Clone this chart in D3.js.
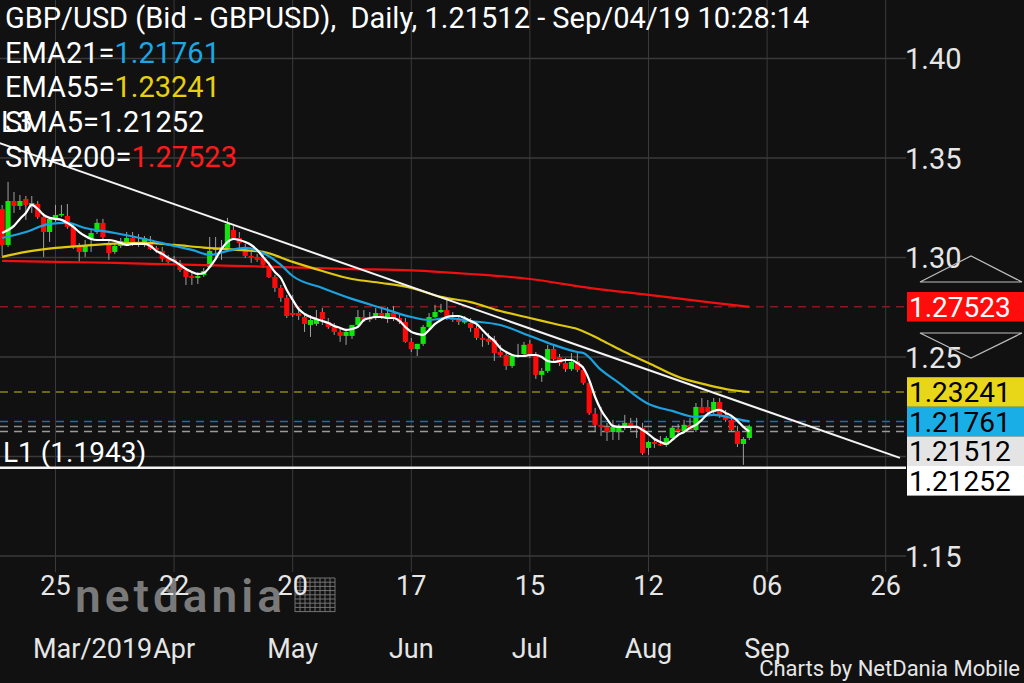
<!DOCTYPE html>
<html><head><meta charset="utf-8">
<script src="https://cdn.jsdelivr.net/npm/d3@7"></script>
<style>
body{margin:0;background:#111;overflow:hidden}
svg{display:block}
text{font-family:Roboto,"Noto Sans",sans-serif}
</style></head>
<body><svg id="c" width="1024" height="683"></svg>
<script>
// ---- data (index 0 = Mar 25 2019, trading days) ----
const firstIndex = -9;
const opens = [1.3244,1.3063,1.3284,1.3259,1.3294,1.3259,1.3269,1.3204,1.3128,1.3194,1.3214,1.3209,1.3154,1.3053,1.3028,1.3093,1.3128,1.3174,1.3068,1.3028,1.3058,1.3068,1.3098,1.3073,1.3078,1.3073,1.3048,1.3033,1.2998,1.2993,1.2973,1.2937,1.2907,1.2897,1.2912,1.2952,1.3038,1.3053,1.3048,1.3138,1.3098,1.3053,1.3008,1.3003,1.2998,1.2958,1.2902,1.2847,1.2797,1.2721,1.2721,1.2701,1.2661,1.2666,1.2726,1.2676,1.2651,1.2626,1.2606,1.2606,1.2661,1.2701,1.2696,1.2696,1.2721,1.2696,1.2721,1.2696,1.2676,1.2576,1.2540,1.2566,1.2651,1.2701,1.2726,1.2736,1.2696,1.2686,1.2676,1.2671,1.2646,1.2596,1.2591,1.2586,1.2525,1.2510,1.2455,1.2505,1.2515,1.2566,1.2510,1.2410,1.2430,1.2540,1.2500,1.2470,1.2440,1.2480,1.2435,1.2370,1.2214,1.2159,1.2149,1.2123,1.2123,1.2149,1.2169,1.2149,1.2144,1.2043,1.2073,1.2063,1.2058,1.2093,1.2139,1.2128,1.2159,1.2133,1.2249,1.2249,1.2224,1.2274,1.2209,1.2184,1.2128,1.2063,1.2093];
const highs = [1.3264,1.3380,1.3329,1.3314,1.3309,1.3309,1.3284,1.3224,1.3204,1.3264,1.3264,1.3269,1.3169,1.3073,1.3088,1.3144,1.3194,1.3194,1.3088,1.3073,1.3098,1.3128,1.3128,1.3118,1.3108,1.3108,1.3058,1.3053,1.3013,1.3008,1.2988,1.2947,1.2922,1.2927,1.2947,1.3103,1.3103,1.3088,1.3199,1.3158,1.3128,1.3068,1.3028,1.3018,1.3018,1.2978,1.2912,1.2862,1.2812,1.2812,1.2751,1.2721,1.2711,1.2736,1.2746,1.2696,1.2671,1.2646,1.2636,1.2636,1.2736,1.2736,1.2726,1.2746,1.2746,1.2751,1.2756,1.2716,1.2696,1.2596,1.2566,1.2661,1.2721,1.2762,1.2767,1.2787,1.2726,1.2711,1.2706,1.2696,1.2661,1.2616,1.2621,1.2606,1.2561,1.2530,1.2510,1.2566,1.2576,1.2586,1.2525,1.2445,1.2561,1.2556,1.2515,1.2495,1.2520,1.2520,1.2455,1.2385,1.2244,1.2249,1.2169,1.2184,1.2164,1.2209,1.2194,1.2194,1.2169,1.2078,1.2093,1.2103,1.2103,1.2154,1.2164,1.2184,1.2194,1.2269,1.2294,1.2284,1.2294,1.2294,1.2234,1.2209,1.2154,1.2098,1.2160];
const lows = [1.3008,1.3053,1.3224,1.3239,1.3189,1.3224,1.3194,1.3003,1.3078,1.3179,1.3204,1.3144,1.3043,1.2978,1.3003,1.3028,1.3118,1.3088,1.2988,1.3018,1.3048,1.3058,1.3058,1.3053,1.3053,1.3038,1.3023,1.2978,1.2968,1.2968,1.2927,1.2862,1.2862,1.2867,1.2902,1.2947,1.2998,1.2988,1.3038,1.3088,1.3038,1.2998,1.2973,1.2978,1.2947,1.2897,1.2827,1.2777,1.2696,1.2701,1.2686,1.2626,1.2601,1.2656,1.2661,1.2641,1.2611,1.2576,1.2561,1.2591,1.2651,1.2676,1.2676,1.2686,1.2691,1.2671,1.2681,1.2666,1.2571,1.2525,1.2505,1.2556,1.2641,1.2696,1.2721,1.2686,1.2676,1.2661,1.2666,1.2626,1.2586,1.2551,1.2561,1.2480,1.2500,1.2435,1.2445,1.2495,1.2505,1.2495,1.2390,1.2375,1.2420,1.2475,1.2455,1.2425,1.2430,1.2425,1.2360,1.2209,1.2123,1.2103,1.2078,1.2083,1.2083,1.2133,1.2133,1.2093,1.2008,1.2008,1.2043,1.2053,1.2048,1.2083,1.2113,1.2118,1.2133,1.2123,1.2219,1.2204,1.2214,1.2194,1.2174,1.2123,1.2048,1.1958,1.2083];
const closes = [1.3063,1.3284,1.3259,1.3284,1.3264,1.3274,1.3204,1.3128,1.3194,1.3214,1.3219,1.3154,1.3053,1.3028,1.3063,1.3123,1.3174,1.3103,1.3023,1.3058,1.3083,1.3098,1.3073,1.3068,1.3098,1.3043,1.3038,1.2993,1.2978,1.2978,1.2937,1.2902,1.2897,1.2907,1.2932,1.3033,1.3048,1.3038,1.3169,1.3098,1.3073,1.3008,1.2998,1.2988,1.2963,1.2902,1.2847,1.2797,1.2706,1.2711,1.2706,1.2666,1.2686,1.2691,1.2691,1.2651,1.2626,1.2606,1.2626,1.2661,1.2701,1.2686,1.2686,1.2721,1.2696,1.2721,1.2696,1.2676,1.2576,1.2540,1.2566,1.2651,1.2701,1.2726,1.2736,1.2696,1.2686,1.2676,1.2681,1.2646,1.2596,1.2586,1.2576,1.2520,1.2510,1.2455,1.2505,1.2510,1.2561,1.2505,1.2410,1.2430,1.2540,1.2490,1.2470,1.2440,1.2475,1.2435,1.2370,1.2219,1.2159,1.2149,1.2123,1.2149,1.2149,1.2169,1.2149,1.2144,1.2018,1.2073,1.2063,1.2058,1.2093,1.2144,1.2128,1.2159,1.2133,1.2249,1.2219,1.2224,1.2274,1.2209,1.2184,1.2133,1.2063,1.2088,1.21512];

const sma5 = [1.3123,1.3138,1.3159,1.3194,1.3224,1.3264,1.3244,1.3214,1.3199,1.3194,1.3189,1.3174,1.3154,1.3128,1.3108,1.3093,1.3088,1.3088,1.3088,1.3083,1.3073,1.3063,1.3068,1.3068,1.3068,1.3058,1.3033,1.3018,1.2998,1.2983,1.2963,1.2942,1.2927,1.2917,1.2922,1.2952,1.2993,1.3043,1.3078,1.3093,1.3088,1.3078,1.3063,1.3038,1.3003,1.2968,1.2927,1.2897,1.2837,1.2787,1.2741,1.2716,1.2701,1.2691,1.2681,1.2671,1.2656,1.2646,1.2636,1.2641,1.2651,1.2686,1.2696,1.2701,1.2701,1.2696,1.2696,1.2681,1.2651,1.2626,1.2616,1.2611,1.2636,1.2666,1.2686,1.2701,1.2706,1.2706,1.2696,1.2681,1.2666,1.2636,1.2606,1.2581,1.2545,1.2525,1.2510,1.2505,1.2505,1.2510,1.2510,1.2500,1.2480,1.2475,1.2480,1.2485,1.2485,1.2470,1.2445,1.2385,1.2299,1.2234,1.2189,1.2154,1.2149,1.2149,1.2149,1.2149,1.2133,1.2113,1.2088,1.2073,1.2063,1.2083,1.2108,1.2123,1.2144,1.2159,1.2184,1.2214,1.2229,1.2234,1.2219,1.2204,1.2179,1.2149,1.21252];

const ema21Idx = [-9,-5,-1,2,5,10,15,20,23,26,29,32,35,38,40,45,50,55,60,63,66,70,75,80,84,88,89,92,95,100,104,108,111,114,117];
const ema21Val = [1.3098,1.3128,1.3169,1.3174,1.3148,1.3123,1.3093,1.3058,1.3038,1.3013,1.3033,1.3048,1.3023,1.2963,1.2907,1.2847,1.2792,1.2746,1.2701,1.2686,1.2696,1.2681,1.2661,1.2606,1.2561,1.2525,1.2520,1.2435,1.2370,1.2264,1.2229,1.2199,1.2209,1.2194,1.21761];
const ema55Idx = [-9,-5,0,5,10,15,20,25,30,35,40,45,50,55,60,65,70,75,80,85,88,92,96,100,105,110,114,117];
const ema55Val = [1.3003,1.3028,1.3048,1.3060,1.3070,1.3073,1.3063,1.3050,1.3040,1.3028,1.2978,1.2932,1.2892,1.2872,1.2847,1.2802,1.2776,1.2731,1.2696,1.2661,1.2641,1.2586,1.2525,1.2470,1.2400,1.2359,1.2334,1.23241];
const sma200Idx = [-9,0,10,20,30,40,50,60,70,80,90,100,110,117];
const sma200Val = [1.2983,1.2978,1.2973,1.2965,1.2958,1.2950,1.2942,1.2935,1.2917,1.2892,1.2847,1.2812,1.2776,1.27523];

const trendIdx = [-9.4, 142.4];
const trendVal = [1.3575, 1.1993];
const l1Value = 1.1943;

const tickIdx = [0,20,40,60,80,100,120,140];
const tickDays = ["25","22","20","17","15","12","06","26"];
const tickMonths = ["Mar/2019","Apr","May","Jun","Jul","Aug","Sep",""];
const yTicks = [1.15,1.25,1.30,1.35,1.40];
const gridY = [1.15,1.20,1.25,1.30,1.35,1.40];

const tagValues = [1.27523,1.23241,1.21761,1.21512,1.21252];
const tagFill = ["#ff0d0d","#e8d619","#19aee6","#e4e4e4","#ffffff"];
const tagText = ["#ffffff","#000","#000","#000","#000"];
const levelColor = ["#8a1a1a","#8c8214","#1c6f96","#8a8a8a","#9a9a9a"];

// ---- scales ----
const svg = d3.select("#c");
const W = 1024, H = 683, plotR = 906;
const x = d3.scaleLinear().domain([0,140]).range([55.5,885.7]);
const y = d3.scaleLinear().domain([1.15,1.40]).range([556,58.5]);

svg.append("rect").attr("width",W).attr("height",H).attr("fill","#111");
svg.append("clipPath").attr("id","pc").append("rect").attr("x",0).attr("y",0).attr("width",plotR).attr("height",575);
const g = svg.append("g").attr("clip-path","url(#pc)");

// grid
g.selectAll(".vg").data(tickIdx).join("line")
  .attr("x1",d=>x(d)).attr("x2",d=>x(d)).attr("y1",0).attr("y2",572)
  .attr("stroke","#3a3a3a").attr("stroke-width",1);
g.selectAll(".hg").data(gridY).join("line")
  .attr("x1",0).attr("x2",plotR).attr("y1",d=>y(d)).attr("y2",d=>y(d))
  .attr("stroke","#3a3a3a").attr("stroke-width",1.5);

// level dashed lines
g.selectAll(".lv").data(tagValues).join("line")
  .attr("x1",0).attr("x2",plotR).attr("y1",d=>y(d)).attr("y2",d=>y(d))
  .attr("stroke",(d,i)=>levelColor[i]).attr("stroke-width",1.5).attr("stroke-dasharray","8,6");

// watermark (behind labels)
svg.append("text").attr("x",75).attr("y",612).attr("font-size",46).attr("font-weight",600)
  .attr("font-family","'Open Sans',sans-serif").attr("fill","#8c8c8c").attr("opacity",0.85).attr("letter-spacing",4).text("netdania");
const hatch = svg.append("g").attr("stroke","#8c8c8c").attr("stroke-width",1).attr("opacity",0.8);
d3.range(0,9).forEach(k=>{
  hatch.append("line").attr("x1",295+k*5).attr("x2",295+k*5).attr("y1",578).attr("y2",612);
  hatch.append("line").attr("x1",295).attr("x2",335).attr("y1",578+k*4.2).attr("y2",578+k*4.2);
});

// candles
const candles = opens.map((o,k)=>({i:firstIndex+k,o,h:highs[k],l:lows[k],c:closes[k]}));
const bw = 5.2;
g.selectAll(".wk").data(candles).join("line")
  .attr("x1",d=>x(d.i)).attr("x2",d=>x(d.i)).attr("y1",d=>y(d.h)).attr("y2",d=>y(d.l))
  .attr("stroke","#a0a0a0").attr("stroke-width",1);
g.selectAll(".bd").data(candles).join("rect")
  .attr("x",d=>x(d.i)-bw/2).attr("width",bw)
  .attr("y",d=>y(Math.max(d.o,d.c)))
  .attr("height",d=>Math.max(1.5,Math.abs(y(d.o)-y(d.c))))
  .attr("fill",d=>d.c>=d.o?"#0ee60e":"#ff0a0a");

// moving averages
const line = d3.line().x(d=>x(d[0])).y(d=>y(d[1])).curve(d3.curveMonotoneX);
const zip = (a,b)=>a.map((v,k)=>[v,b[k]]);
g.append("path").attr("d",line(zip(sma200Idx,sma200Val))).attr("fill","none").attr("stroke","#f01010").attr("stroke-width",2.2);
g.append("path").attr("d",line(zip(ema55Idx,ema55Val))).attr("fill","none").attr("stroke","#e0c810").attr("stroke-width",2.2);
g.append("path").attr("d",line(zip(ema21Idx,ema21Val))).attr("fill","none").attr("stroke","#1aa3e0").attr("stroke-width",2.2);
g.append("path").attr("d",line(sma5.map((v,k)=>[firstIndex+k,v]))).attr("fill","none").attr("stroke","#ffffff").attr("stroke-width",2.2);

// trendline L3 and L1
g.append("line").attr("x1",x(trendIdx[0])).attr("y1",y(trendVal[0])).attr("x2",x(trendIdx[1])).attr("y2",y(trendVal[1]))
  .attr("stroke","#f4f4f4").attr("stroke-width",2);
svg.append("line").attr("x1",0).attr("x2",plotR).attr("y1",y(l1Value)).attr("y2",y(l1Value))
  .attr("stroke","#f4f4f4").attr("stroke-width",2.5);

// header texts
const hdr = svg.append("g").attr("font-size",29).attr("fill","#fff");
hdr.append("text").attr("x",5).attr("y",28).text("GBP/USD (Bid - GBPUSD),  Daily, 1.21512 - Sep/04/19 10:28:14").attr("xml:space","preserve").style("white-space","pre");
const legends = [["EMA21=","1.21761","#1aa8e4",63],["EMA55=","1.23241","#e8d010",97],["SMA5=","1.21252","#ffffff",132],["SMA200=","1.27523","#ff1a1a",167]];
legends.forEach(([k,v,c,yy])=>{
  const t = hdr.append("text").attr("x",5).attr("y",yy);
  t.append("tspan").text(k).attr("fill","#fff");
  t.append("tspan").text(v).attr("fill",c);
});
hdr.append("text").attr("x",1).attr("y",132).text("L3");
svg.append("text").attr("x",3).attr("y",462).attr("font-size",28).attr("fill","#fff").text("L1 (1.1943)");

// y axis labels
svg.selectAll(".yl").data(yTicks).join("text")
  .attr("x",905).attr("y",d=>y(d)+10.5).attr("font-size",29).attr("fill","#e6e6e6")
  .text(d=>d.toFixed(2));

// x axis labels
svg.selectAll(".xd").data(tickIdx).join("text")
  .attr("x",d=>x(d)).attr("y",595).attr("text-anchor","middle").attr("font-size",27).attr("fill","#e6e6e6")
  .text((d,k)=>tickDays[k]);
svg.selectAll(".xm").data(tickIdx).join("text")
  .attr("x",(d,k)=>k===0?33:x(d)).attr("y",658).attr("text-anchor",(d,k)=>k===0?"start":"middle")
  .attr("font-size",27).attr("fill","#e6e6e6").text((d,k)=>tickMonths[k]);

// triangles
svg.append("path").attr("d","M920,282L971,256L1022,282Z").attr("fill","none").attr("stroke","#bdbdbd").attr("stroke-width",1.2);
svg.append("path").attr("d","M920,333L1022,333L971,358Z").attr("fill","none").attr("stroke","#bdbdbd").attr("stroke-width",1.2);

// price tags with stacking
let prevBottom = -Infinity;
const th = 29.6;
tagValues.forEach((v,k)=>{
  let top = Math.max(y(v)-th/2, prevBottom);
  prevBottom = top+th;
  svg.append("rect").attr("x",907).attr("y",top).attr("width",W-907).attr("height",th).attr("fill",tagFill[k]);
  svg.append("text").attr("x",909).attr("y",top+th/2+10).attr("font-size",28).attr("fill",tagText[k]).text(v.toFixed(5));
});

svg.append("text").attr("x",1020).attr("y",676).attr("text-anchor","end").attr("font-size",22).attr("fill","#e6e6e6").text("Charts by NetDania Mobile");
</script></body></html>
